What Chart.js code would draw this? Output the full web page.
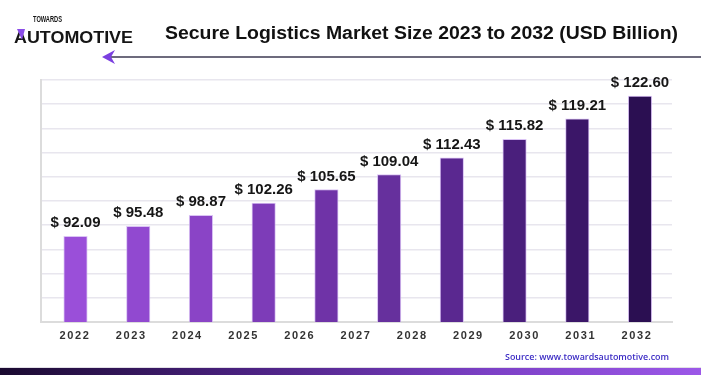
<!DOCTYPE html>
<html><head><meta charset="utf-8">
<script src="https://cdn.jsdelivr.net/npm/chart.js@4.4.1/dist/chart.umd.min.js"></script>
<style>html,body{margin:0;padding:0;background:#fff;}#wrap{width:701px;height:375px;position:relative;}</style>
</head><body><div id="wrap"><canvas id="c" width="701" height="375"></canvas></div>
<script>
// ---- data ----
const yearLabels = [2022, 2023, 2024, 2025, 2026, 2027, 2028, 2029, 2030, 2031, 2032];
const barYears = [2023, 2024, 2025, 2026, 2027, 2028, 2029, 2030, 2031, 2032];
const marketValues = [92.09, 95.48, 98.87, 102.26, 105.65, 109.04, 112.43, 115.82, 119.21, 122.60];
const barColors = ['#9a4fd9', '#9149d0', '#8a44c6', '#7d3cb8', '#6f33a7', '#66309d', '#5a2890', '#4a1f7c', '#3b1668', '#2b0f52'];
const titleText = 'Secure Logistics Market Size 2023 to 2032 (USD Billion)';
const sourceText = 'Source: www.towardsautomotive.com';

// custom growth scale: the pictured bar heights grow faster than a linear axis
class GrowthScale extends Chart.LinearScale {
  _g() { return this.options.growth || 0.0305; }
  getPixelForValue(value) {
    if (value === null || value === undefined || isNaN(value)) return NaN;
    const g = this._g();
    const d = (Math.exp(g * value) - 1) / (Math.exp(g * this.max) - 1);
    return this.getPixelForDecimal(d);
  }
  getValueForPixel(pixel) {
    const g = this._g();
    const d = this.getDecimalForPixel(pixel);
    return Math.log(1 + d * (Math.exp(g * this.max) - 1)) / g;
  }
}
GrowthScale.id = 'growth';
GrowthScale.defaults = Chart.LinearScale.defaults;
Chart.register(GrowthScale);

function fitText(ctx, text, x, y, width) {
  const w = ctx.measureText(text).width;
  ctx.save();
  ctx.translate(x, y);
  ctx.scale(width / w, 1);
  ctx.fillText(text, 0, 0);
  ctx.restore();
}

const decor = {
  id: 'decor',
  beforeDraw(chart) {
    const ctx = chart.ctx;
    ctx.save();
    ctx.fillStyle = '#ffffff';
    ctx.fillRect(0, 0, chart.width, chart.height);
    ctx.restore();
    ctx.letterSpacing = '1.6px';
  },
  beforeDatasetsDraw(chart) { chart.ctx.letterSpacing = '0px'; },
  afterDatasetsDraw(chart) {
    const ctx = chart.ctx;
    const meta = chart.getDatasetMeta(0);
    ctx.save();
    ctx.letterSpacing = '0px';
    ctx.fillStyle = '#161616';
    ctx.font = 'bold 15px "Liberation Sans"';
    ctx.textAlign = 'center';
    ctx.textBaseline = 'middle';
    meta.data.forEach((bar, i) => {
      ctx.fillText('$ ' + marketValues[i].toFixed(2), bar.x, bar.y - 13);
    });
    ctx.restore();
  },
  afterDraw(chart) {
    const ctx = chart.ctx;
    ctx.save();
    ctx.letterSpacing = '0px';
    // title
    ctx.fillStyle = '#111111';
    ctx.font = 'bold 18px "Liberation Sans"';
    ctx.textAlign = 'left';
    ctx.textBaseline = 'alphabetic';
    fitText(ctx, titleText, 165, 39, 513);
    // arrow line
    ctx.strokeStyle = '#3d3a52';
    ctx.lineWidth = 1.5;
    ctx.beginPath();
    ctx.moveTo(110, 57);
    ctx.lineTo(701, 57);
    ctx.stroke();
    ctx.fillStyle = '#7b3fe0';
    ctx.beginPath();
    ctx.moveTo(102, 57);
    ctx.lineTo(115, 50);
    ctx.lineTo(111, 57);
    ctx.lineTo(115, 64);
    ctx.closePath();
    ctx.fill();
    // logo
    ctx.fillStyle = '#151515';
    ctx.font = '900 8.5px "Liberation Sans"';
    fitText(ctx, 'TOWARDS', 33, 22, 29);
    ctx.font = 'bold 17px "Liberation Sans"';
    fitText(ctx, 'AUTOMOTIVE', 14, 43, 119);
    ctx.fillStyle = '#8a4ce8';
    ctx.beginPath();
    ctx.moveTo(17, 29);
    ctx.lineTo(25, 29);
    ctx.lineTo(22, 40);
    ctx.closePath();
    ctx.fill();
    // source
    ctx.fillStyle = '#3b2bc4';
    ctx.font = '600 9.5px "Open Sans"';
    ctx.textBaseline = 'middle';
    fitText(ctx, sourceText, 505, 357, 164);
    // bottom band
    ctx.fillStyle = '#e2e0e6';
    ctx.fillRect(0, 367, 701, 1);
    const grad = ctx.createLinearGradient(0, 0, 701, 0);
    grad.addColorStop(0, '#1a0a30');
    grad.addColorStop(0.35, '#4a2180');
    grad.addColorStop(0.7, '#7c40c6');
    grad.addColorStop(1, '#9c58e8');
    ctx.fillStyle = grad;
    ctx.fillRect(0, 368, 701, 7);
    ctx.restore();
  }
};

new Chart(document.getElementById('c'), {
  type: 'bar',
  data: {
    datasets: [{
      data: barYears.map((yr, i) => ({ x: yr, y: marketValues[i] })),
      xAxisID: 'x',
      yAxisID: 'y',
      backgroundColor: barColors,
      borderColor: 'rgba(205,175,240,0.75)',
      borderWidth: { top: 1, left: 1, right: 1, bottom: 0 },
      borderSkipped: false,
      barThickness: 23.5
    }]
  },
  options: {
    responsive: false,
    animation: false,
    events: [],
    layout: { padding: { left: 41, right: 29, top: 80, bottom: 25 } },
    plugins: { legend: { display: false }, tooltip: { enabled: false }, title: { display: false } },
    scales: {
      x: {
        type: 'linear', position: 'bottom', min: 2022.45, max: 2032.51, offset: false,
        grid: { display: false, drawTicks: false },
        border: { display: true, color: '#dcdcdc', width: 2 },
        ticks: { display: false },
        afterFit(s) { s.height = 0; }
      },
      years: {
        type: 'linear', position: 'bottom', min: 2021.395, max: 2032.623, offset: false,
        grid: { display: false, drawTicks: false },
        border: { display: false },
        ticks: {
          padding: 7, color: '#333333', maxRotation: 0, autoSkip: false,
          font: { family: 'Liberation Sans', weight: 'bold', size: 11 },
          callback: v => String(v)
        },
        afterBuildTicks(s) { s.ticks = yearLabels.map(v => ({ value: v })); },
        afterFit(s) { s.height = 28; }
      },
      y: { type: 'growth', growth: 0.0305, min: 0, max: 124.8, display: false },
      yGrid: {
        type: 'linear', position: 'left', min: 0, max: 10,
        ticks: { display: false, stepSize: 1 },
        grid: { color: '#e8e6ee', lineWidth: 1.5, drawTicks: false },
        border: { display: true, color: '#dcdcdc', width: 2 },
        afterFit(s) { s.width = 0; }
      }
    }
  },
  plugins: [decor]
});
</script></body></html>
